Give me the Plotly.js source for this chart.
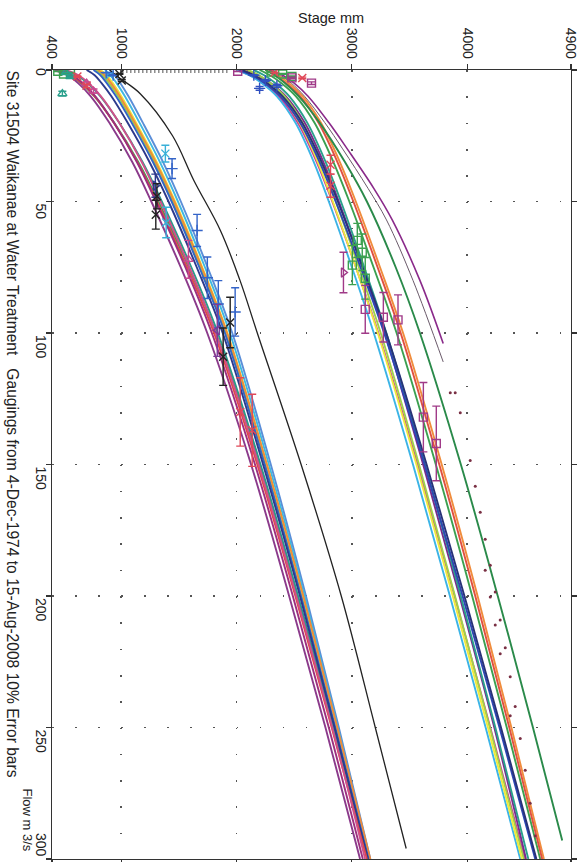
<!DOCTYPE html>
<html>
<head>
<meta charset="utf-8">
<script src="https://cdn.plot.ly/plotly-3.0.1.min.js"></script>
<style>
  html, body { margin: 0; padding: 0; background: #fff; }
  #chart { width: 585px; height: 862px; }
</style>
</head>
<body>
<div id="chart"></div>
<script>
// Rating curves for site 31504: stage (mm) against flow (m3/s), flow increasing downward.
const flowLevels = [0, 2, 5, 10, 20, 35, 50, 75, 100, 150, 200, 250, 300];

// Lower group of rating curves (stage mm at each flow level)
const lowPurple1 = [420, 536, 626, 736, 896, 1096, 1261, 1516, 1746, 2126, 2456, 2771, 3071];
const lowPurple2 = [460, 576, 666, 776, 936, 1136, 1301, 1556, 1786, 2160, 2488, 2800, 3095];
const lowMagenta = [520, 630, 718, 825, 982, 1178, 1340, 1592, 1820, 2192, 2518, 2830, 3115];
const lowRed     = [440, 560, 655, 770, 935, 1140, 1310, 1570, 1805, 2180, 2510, 2825, 3130];
const lowTeal    = [500, 615, 708, 820, 982, 1185, 1352, 1608, 1838, 2208, 2533, 2845, 3140];
const lowGreen   = [430, 552, 650, 768, 938, 1148, 1322, 1585, 1822, 2200, 2528, 2840, 3138];
const lowNavy    = [700, 770, 830, 915, 1055, 1245, 1410, 1655, 1880, 2230, 2550, 2850, 3140];
const lowBlue    = [760, 820, 875, 955, 1090, 1275, 1437, 1677, 1899, 2244, 2559, 2856, 3145];
const lowLime    = [780, 840, 895, 973, 1105, 1288, 1448, 1686, 1906, 2250, 2565, 2861, 3148];
const lowOrange  = [800, 858, 912, 988, 1118, 1300, 1460, 1698, 1918, 2263, 2579, 2874, 3160];
const lowYellow  = [820, 875, 927, 1001, 1129, 1309, 1467, 1703, 1921, 2263, 2576, 2868, 3150];
const lowCyan    = [860, 910, 960, 1032, 1158, 1336, 1492, 1726, 1942, 2280, 2590, 2878, 3155];
const lowSky     = [900, 945, 993, 1063, 1187, 1363, 1517, 1749, 1963, 2297, 2602, 2887, 3160];

// Separate black curve
const blackFlow  = [0, 3, 9, 25, 42, 61, 80, 100, 150, 200, 250, 296];
const blackStage = [900, 985, 1165, 1445, 1630, 1860, 2030, 2180, 2560, 2908, 3203, 3471];

// Upper group of rating curves
const upMagenta = [2000, 2115, 2230, 2365, 2530, 2695, 2830, 3035, 3230, 3570, 3890, 4200, 4500];
const upPurple  = [2080, 2188, 2298, 2428, 2590, 2753, 2887, 3091, 3285, 3618, 3933, 4235, 4510];
const upCyan    = [2000, 2110, 2220, 2350, 2510, 2670, 2800, 3000, 3190, 3530, 3850, 4160, 4460];
const upYellow  = [2060, 2160, 2265, 2390, 2545, 2705, 2835, 3035, 3225, 3560, 3875, 4180, 4475];
const upLime    = [2100, 2195, 2295, 2417, 2572, 2730, 2860, 3060, 3250, 3582, 3894, 4196, 4490];
const upTeal    = [2150, 2240, 2338, 2458, 2613, 2773, 2905, 3107, 3299, 3634, 3944, 4244, 4530];
const upBlue    = [2020, 2130, 2245, 2380, 2550, 2720, 2860, 3075, 3280, 3630, 3960, 4280, 4590];
const upNavy    = [2050, 2155, 2267, 2400, 2568, 2738, 2878, 3093, 3298, 3648, 3976, 4293, 4600];
const upGreen   = [2200, 2290, 2390, 2515, 2675, 2840, 2978, 3188, 3388, 3728, 4043, 4343, 4633];
const upRed     = [2250, 2335, 2430, 2552, 2710, 2875, 3013, 3223, 3423, 3758, 4070, 4365, 4650];
const upOrange  = [2280, 2362, 2455, 2575, 2731, 2896, 3034, 3244, 3444, 3779, 4090, 4383, 4665];

const upDarkGreenFlow = [0, 2, 5, 10, 20, 35, 50, 75, 100, 150, 200, 250, 293];
const upDarkGreen     = [2250, 2330, 2420, 2540, 2720, 2940, 3130, 3380, 3590, 3945, 4265, 4570, 4824];

// Two short curves ending near 110 m3/s, continued as dotted extrapolations
const shortAFlow  = [0, 2, 5, 10, 20, 30, 45, 57, 80, 104];
const shortAStage = [2300, 2400, 2500, 2620, 2800, 2960, 3190, 3350, 3590, 3792];
const shortBFlow  = [0, 2, 5, 10, 20, 30, 45, 57, 80, 111];
const shortBStage = [2280, 2380, 2475, 2590, 2765, 2920, 3140, 3300, 3530, 3792];

const dotsAFlow  = [122.7, 130.3, 148.5, 158.3, 168.2, 178.4, 188.3, 198.5, 209.1, 219.7, 230.7, 242.0, 254.2, 266.3, 278.8, 291.3];
const dotsAStage = [3896, 3940, 4026, 4070, 4113, 4156, 4200, 4243, 4286, 4330, 4373, 4416, 4460, 4503, 4546, 4590];
const dotsBFlow  = [122.7, 190.2, 200.4, 211.0, 222.0, 245.5];
const dotsBStage = [3853, 4156, 4200, 4243, 4286, 4373];

// Zero-flow stretch between the two groups
const zeroStage = [1010, 1940];
const zeroFlow  = [0.6, 0.6];

// Gaugings (plotted with 10% error bars on flow)
const gBlackStage   = [985, 1005, 1310, 1300, 1945, 1884];
const gBlackFlow    = [1.5, 4, 48, 55, 96, 109];
const gCyanStage    = [1383, 1390, 900];
const gCyanFlow     = [31.8, 58, 2];
const gTealStage    = [490, 520, 560];
const gTealFlow     = [9, 1, 2.5];
const gBlueStage    = [1441, 1658, 1747, 1842, 1988, 870, 930];
const gBlueFlow     = [37.5, 61, 79, 89, 92, 1, 2];
const gNavyStage    = [1296];
const gNavyFlow     = [44];
const gPinkStage    = [1583, 760, 700];
const gPinkFlow     = [72, 8, 5];
const gPurpleStage  = [1833];
const gPurpleFlow   = [99];
const gRedStage     = [2032, 2136, 620, 700, 2815, 2815, 2330, 2570];
const gRedFlow      = [130, 137, 2.5, 6, 36, 44, 1, 3];
const gGreenStage   = [450, 500, 560, 3047, 3090, 3004, 3116, 2300, 2400, 2480];
const gGreenFlow    = [0.5, 1.5, 1, 64.8, 69.3, 74.2, 79.2, 0.8, 1.5, 2.5];
const gPlumStage    = [3116, 3273, 3400, 3620, 3732, 2010, 2650, 2480];
const gPlumFlow     = [91, 94, 95, 132, 142, 0.5, 5, 3];
const gPlumTriStage = [2927];
const gPlumTriFlow  = [77];
const gUpBlueStage  = [2150, 2250, 2350, 2200];
const gUpBlueFlow   = [2, 4, 6, 7];

// Axes
const stageTicks = [400, 1000, 2000, 3000, 4000, 4900];
const stageTickText = ['400', '1000', '2000', '3000', '4000', '4900'];
const flowTicks = [0, 50, 100, 150, 200, 250, 300];
const flowTickText = ['0', '50', '100', '150', '200', '250', '300'];

const titleText = 'Site 31504 Waikanae at Water Treatment\u00a0\u00a0 Gaugings from 4-Dec-1974 to 15-Aug-2008 10% Error bars';
const stageTitle = 'Stage mm';
const flowTitle = 'Flow m 3/s';

const FONT = 'Arial, "Liberation Sans", sans-serif';

function curve(stage, flow, color, width) {
  return {
    type: 'scatter', mode: 'lines', x: stage, y: flow, hoverinfo: 'skip',
    line: { color: color, width: width || 1.9, shape: 'spline', smoothing: 1 }
  };
}

function gaugings(stage, flow, color, symbol) {
  return {
    type: 'scatter', mode: 'markers', x: stage, y: flow, hoverinfo: 'skip',
    marker: { color: color, symbol: symbol, size: 8, line: { color: color, width: 1.4 } },
    error_y: { type: 'percent', value: 10, color: color, thickness: 1.4, width: 4 }
  };
}

const traces = [
  // lower group
  curve(lowSky, flowLevels, '#5a8ed8'),
  curve(lowCyan, flowLevels, '#40b8e0'),
  curve(lowLime, flowLevels, '#98d048'),
  curve(lowYellow, flowLevels, '#ece43c'),
  curve(lowOrange, flowLevels, '#f08a3a'),
  curve(lowGreen, flowLevels, '#3aa35a'),
  curve(lowTeal, flowLevels, '#2a9a8a'),
  curve(lowBlue, flowLevels, '#3464c8'),
  curve(lowNavy, flowLevels, '#2c3a8c'),
  curve(lowRed, flowLevels, '#e04848'),
  curve(lowMagenta, flowLevels, '#d0508a'),
  curve(lowPurple2, flowLevels, '#9c2f7e'),
  curve(lowPurple1, flowLevels, '#8b3a8b'),
  curve(blackStage, blackFlow, '#222222', 1.3),
  // upper group
  curve(upMagenta, flowLevels, '#c83c96'),
  curve(upPurple, flowLevels, '#7a2a8a'),
  curve(upCyan, flowLevels, '#3cb4e6'),
  curve(upLime, flowLevels, '#a0d24a'),
  curve(upYellow, flowLevels, '#eeea3c'),
  curve(upTeal, flowLevels, '#2aa08c'),
  curve(upBlue, flowLevels, '#2c46b4'),
  curve(upNavy, flowLevels, '#283278'),
  curve(upGreen, flowLevels, '#3ca050'),
  curve(upOrange, flowLevels, '#f08c3c'),
  curve(upRed, flowLevels, '#e05040'),
  curve(upDarkGreen, upDarkGreenFlow, '#2a8a4a'),
  curve(shortBStage, shortBFlow, '#6a5a6a', 1.0),
  curve(shortAStage, shortAFlow, '#8a2a8a', 1.6),
  {
    type: 'scatter', mode: 'markers', x: dotsAStage, y: dotsAFlow, hoverinfo: 'skip',
    marker: { color: '#7a3044', size: 3 }
  },
  {
    type: 'scatter', mode: 'markers', x: dotsBStage, y: dotsBFlow, hoverinfo: 'skip',
    marker: { color: '#7a3044', size: 3 }
  },
  {
    type: 'scatter', mode: 'lines', x: zeroStage, y: zeroFlow, hoverinfo: 'skip',
    line: { color: '#555', width: 3, dash: '1px,3px' }
  },
  // gaugings
  gaugings(gGreenStage, gGreenFlow, '#3ca050', 'square-open'),
  gaugings(gTealStage, gTealFlow, '#2aa08c', 'triangle-up-open'),
  gaugings(gCyanStage, gCyanFlow, '#38b0d8', 'x-thin-open'),
  gaugings(gBlueStage, gBlueFlow, '#3464c8', 'cross-thin-open'),
  gaugings(gNavyStage, gNavyFlow, '#2c3a8c', 'triangle-right-open'),
  gaugings(gPinkStage, gPinkFlow, '#c84890', 'triangle-up-open'),
  gaugings(gPurpleStage, gPurpleFlow, '#7a3a9a', 'triangle-left-open'),
  gaugings(gRedStage, gRedFlow, '#e04858', 'x-thin-open'),
  gaugings(gUpBlueStage, gUpBlueFlow, '#3050c0', 'cross-thin-open'),
  gaugings(gPlumStage, gPlumFlow, '#a03a88', 'square-open'),
  gaugings(gPlumTriStage, gPlumTriFlow, '#a03a88', 'triangle-right-open'),
  gaugings(gBlackStage, gBlackFlow, '#222222', 'x-thin-open')
];

const annotations = [
  {
    text: titleText, xref: 'paper', yref: 'paper', x: 0, y: 1,
    xanchor: 'center', yanchor: 'top', xshift: -40, yshift: 2,
    textangle: 90, showarrow: false, font: { family: FONT, size: 15.6, color: '#222' }
  },
  {
    text: stageTitle, xref: 'paper', yref: 'paper', x: (331 - 52) / 519, y: 1,
    xanchor: 'center', yanchor: 'middle', yshift: 52,
    showarrow: false, font: { family: FONT, size: 14.5, color: '#222' }
  },
  {
    text: flowTitle, xref: 'paper', yref: 'paper', x: 0, y: 0,
    xanchor: 'center', yanchor: 'bottom', xshift: -25, yshift: 6,
    textangle: 90, showarrow: false, font: { family: FONT, size: 13, color: '#222' }
  }
];

flowTicks.forEach(function (v, i) {
  const last = i === flowTicks.length - 1;
  annotations.push({
    text: flowTickText[i], xref: 'paper', yref: 'y', x: 0, y: v,
    xanchor: 'center', yanchor: last ? 'bottom' : 'top',
    xshift: -11, yshift: i === 0 ? 4 : 0,
    textangle: 90, showarrow: false, font: { family: FONT, size: 14, color: '#222' }
  });
});

const layout = {
  width: 585, height: 862,
  margin: { l: 52, r: 14, t: 70, b: 3 },
  paper_bgcolor: '#fff', plot_bgcolor: '#fff',
  showlegend: false,
  xaxis: {
    side: 'top', range: [400, 4900], tickmode: 'array',
    tickvals: stageTicks, ticktext: stageTickText, tickangle: 90,
    ticks: 'outside', ticklen: 5, tickcolor: '#333', tickwidth: 1.2,
    showline: true, linecolor: '#333', linewidth: 1.2, mirror: 'ticks',
    showgrid: true, gridcolor: '#555', gridwidth: 1.6, griddash: '1.6px,24.7px',
    zeroline: false, tickfont: { family: FONT, size: 14, color: '#222' }
  },
  yaxis: {
    range: [300, 0], tickmode: 'array', tickvals: flowTicks,
    showticklabels: false,
    ticks: 'outside', ticklen: 5, tickcolor: '#333', tickwidth: 1.2,
    showline: true, linecolor: '#333', linewidth: 1.2, mirror: 'ticks',
    showgrid: true, gridcolor: '#555', gridwidth: 1.6, griddash: '1.6px,21.47px',
    zeroline: false
  },
  annotations: annotations
};

Plotly.newPlot('chart', traces, layout, { displayModeBar: false, staticPlot: true });
</script>
</body>
</html>
